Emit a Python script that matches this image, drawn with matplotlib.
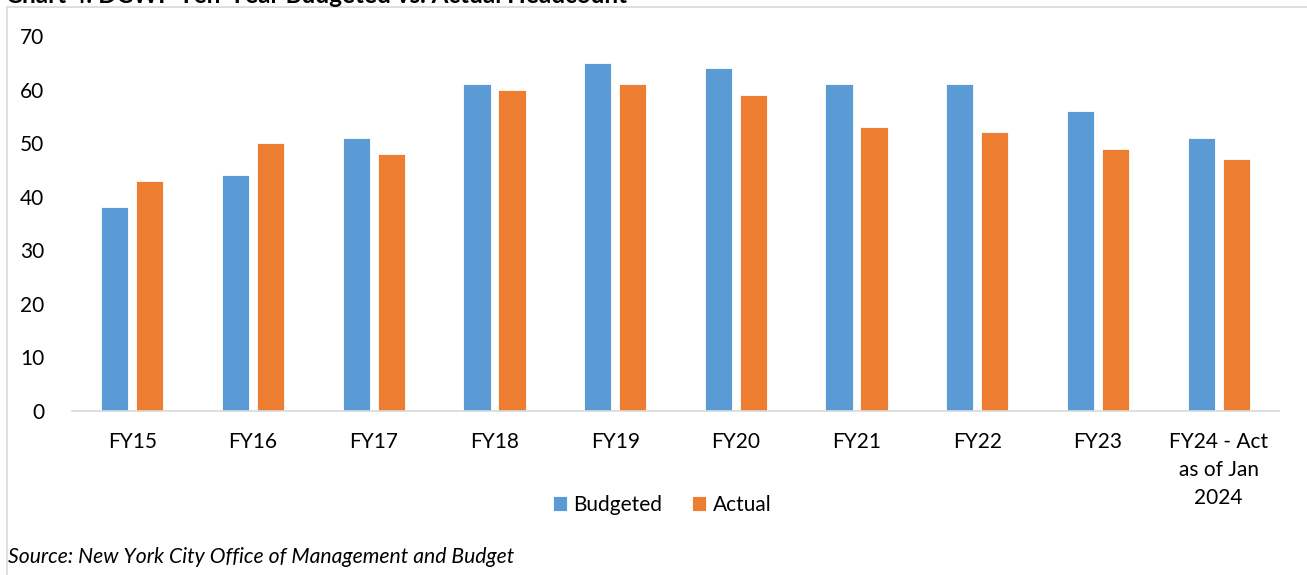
import matplotlib.pyplot as plt
import numpy as np
from matplotlib.patches import Rectangle

# Chart data
categories = ["FY15", "FY16", "FY17", "FY18", "FY19", "FY20", "FY21", "FY22", "FY23",
              "FY24 - Act\nas of Jan\n2024"]
budgeted = [38, 44, 51, 61, 65, 64, 61, 61, 56, 51]
actual = [43, 50, 48, 60, 61, 59, 53, 52, 49, 47]
y_ticks = [0, 10, 20, 30, 40, 50, 60, 70]

BLUE = "#5B9BD5"
ORANGE = "#ED7D31"

plt.rcParams["font.family"] = ["Lato", "DejaVu Sans"]

W, H = 1307, 575
fig = plt.figure(figsize=(W / 100, H / 100), dpi=100)
fig.patch.set_facecolor("white")

# axes placed in pixel coordinates
left, right, bottom, top = 72, 1279, 411, 36
ax = fig.add_axes([left / W, 1 - bottom / H, (right - left) / W, (bottom - top) / H])

x = np.arange(len(categories))
width = 0.225
ax.bar(x - 0.145, budgeted, width, color=BLUE, edgecolor="white", linewidth=0.6, label="Budgeted")
ax.bar(x + 0.145, actual, width, color=ORANGE, edgecolor="white", linewidth=0.6, label="Actual")

ax.set_xlim(-0.5, len(categories) - 0.5)
ax.set_ylim(0, 70)
ax.set_yticks(y_ticks)
ax.set_xticks(x)
ax.set_xticklabels(categories, linespacing=1.5, va="top")
ax.tick_params(axis="both", length=0, labelsize=15, colors="black")
ax.tick_params(axis="y", pad=20)
ax.tick_params(axis="x", pad=15)

for side in ["top", "right", "left"]:
    ax.spines[side].set_visible(False)
ax.spines["bottom"].set_color("#D9D9D9")
ax.spines["bottom"].set_linewidth(1.2)

fig.legend(loc="center", bbox_to_anchor=(662 / W, 1 - 505 / H), ncol=2, frameon=False,
           fontsize=15, handlelength=0.7, handleheight=0.7, handletextpad=0.3,
           columnspacing=1.4)

# chart frame
fig.add_artist(Rectangle((7 / W, -0.01), 1.0, 1 - 7 / H + 0.01, transform=fig.transFigure,
                         fill=False, edgecolor="#D9D9D9", linewidth=1.2))

# title (clipped at top in the source image)
fig.text(6 / W, 1 - 3 / H, "Chart 4: DCWP Ten-Year Budgeted vs. Actual Headcount",
         fontsize=17.5, fontweight="bold", ha="left", va="baseline")

fig.text(8 / W, 1 - 557 / H, "Source: New York City Office of Management and Budget",
         fontsize=15.2, style="italic", ha="left", va="center")

fig.savefig("out.png", dpi=100)
